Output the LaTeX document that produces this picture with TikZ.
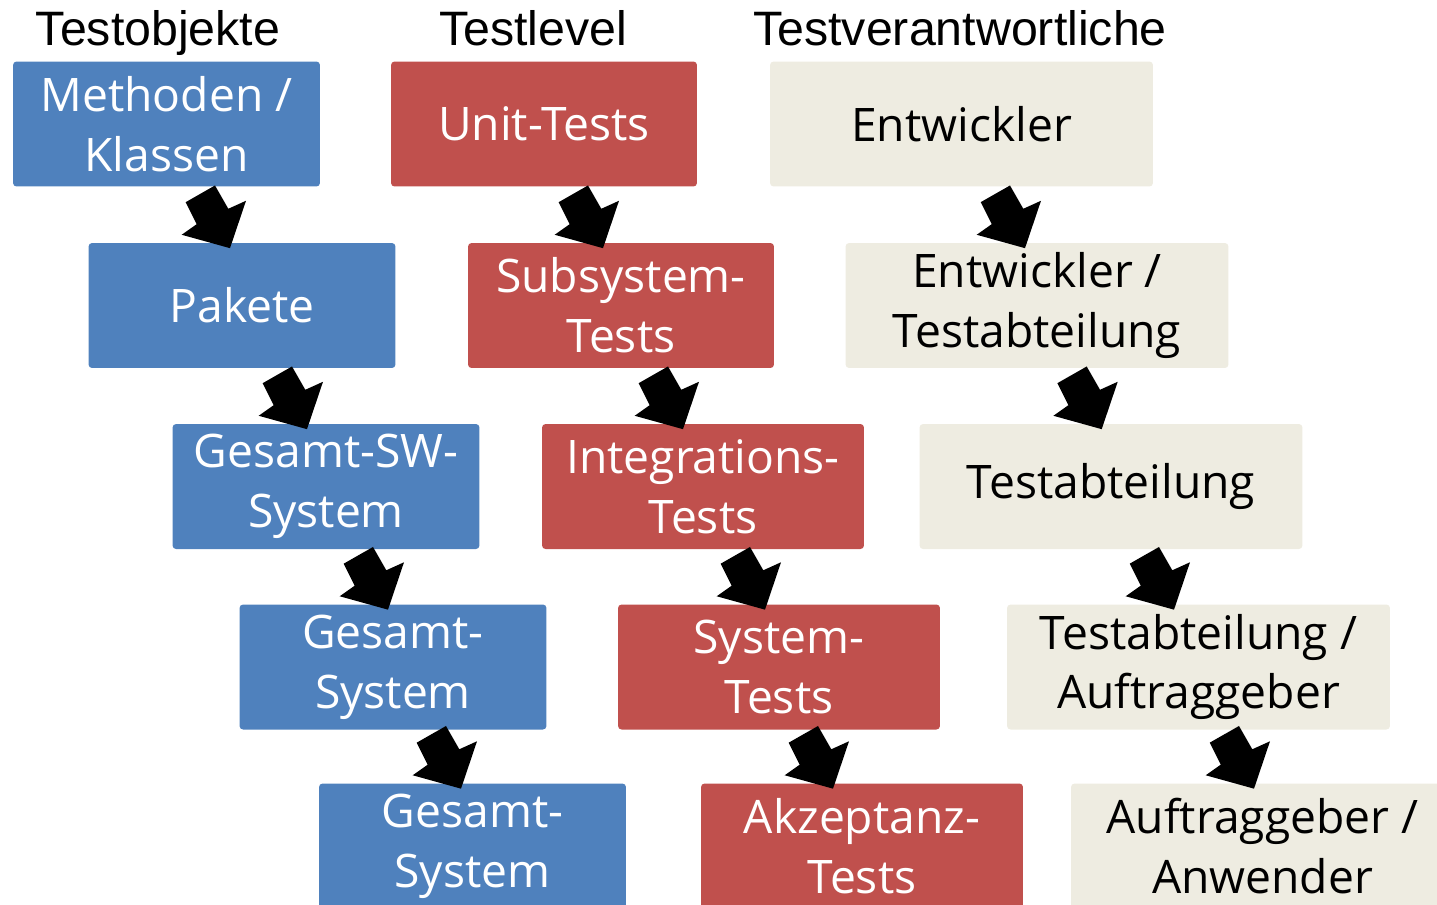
\documentclass[tikz,border=0pt]{standalone}
\usepackage{fontspec}
\setmainfont{Open Sans}
\newfontfamily\headfont{Liberation Sans}
\usetikzlibrary{calc}
\definecolor{cblue}{HTML}{4F81BD}
\definecolor{cred}{HTML}{C0504D}
\definecolor{cbeige}{HTML}{EEECE1}
\tikzset{
  box/.style={rectangle, rounded corners=2pt, minimum height=2.5cm, align=center, inner sep=0pt,
    font=\fontsize{26.3}{34}\selectfont},
  bluebox/.style={box, fill=cblue, text=white, minimum width=6.14cm},
  redbox/.style={box, fill=cred, text=white},
  beigebox/.style={box, fill=cbeige, text=black, minimum width=7.66cm},
  head/.style={anchor=base, font=\headfont\fontsize{27.5}{31}\selectfont},
  barrow/.pic={\fill[black] (0,0) -- (-48.3,-13.4) -- (-33.3,-24) -- (-44.3,-46) -- (-15,-62.7) -- (-1.7,-39.4) -- (16,-47.4) -- cycle;}
}
\begin{document}
\begin{tikzpicture}[x=0.02cm,y=-0.02cm]
\useasboundingbox (0,0) rectangle (1437,904);
\clip (0,0) rectangle (1437,904);
% headers
\node[head] (h1) at (158,45) {Testobjekte};
\node[head] (h2) at (533,45) {Testlevel};
\node[head] (h3) at (960,45) {Testverantwortliche};
% blue column
\node[bluebox] (B1) at (166.5,124) {Methoden /\\Klassen};
\node[bluebox] (B2) at (242,305.5) {Pakete};
\node[bluebox] (B3) at (326,486.5) {Gesamt-SW-\\System};
\node[bluebox] (B4) at (393,667) {Gesamt-\\System};
\node[bluebox] (B5) at (472.5,846) {Gesamt-\\System};
% red column
\node[redbox, minimum width=6.12cm] (R1) at (544,124) {Unit-Tests};
\node[redbox, minimum width=6.12cm] (R2) at (621,305.5) {Subsystem-\\Tests};
\node[redbox, minimum width=6.44cm] (R3) at (703,486.5) {Integrations-\\Tests};
\node[redbox, minimum width=6.44cm] (R4) at (779,667) {System-\\Tests};
\node[redbox, minimum width=6.44cm] (R5) at (862,846) {Akzeptanz-\\Tests};
% beige column
\node[beigebox] (E1) at (961.5,124) {Entwickler};
\node[beigebox] (E2) at (1037,305.5) {Entwickler /\\Testabteilung};
\node[beigebox] (E3) at (1111,486.5) {Testabteilung};
\node[beigebox] (E4) at (1198.5,667) {Testabteilung /\\Auftraggeber};
\node[beigebox] (E5) at (1262.5,846) {Auftraggeber /\\Anwender};
% arrows
\foreach \u/\l/\d in {B1/B2/63.5, B2/B3/65, B3/B4/62, B4/B5/68,
                      R1/R2/59, R2/R3/62, R3/R4/62, R4/R5/54,
                      E1/E2/63.5, E2/E3/64.7, E3/E4/63, E4/E5/55.5}
  \path ($(\u.south |- \l.north)+(\d,5.5)$) pic{barrow};
\end{tikzpicture}
\end{document}
